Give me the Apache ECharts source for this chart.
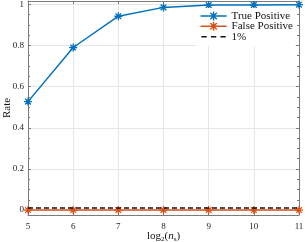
<!DOCTYPE html>
<html><head><meta charset="utf-8">
<script src="https://cdn.jsdelivr.net/npm/echarts@6/dist/echarts.min.js"></script>
<style>html,body{margin:0;padding:0;background:#fff}#c{width:305px;height:242px}</style>
</head><body><div id="c"></div>
<script>
const xValues = [5, 6, 7, 8, 9, 10, 11];
const truePositive = [0.527, 0.79, 0.942, 0.985, 0.996, 0.997, 0.998];
const falsePositive = [0.0, 0.0, 0.0, 0.0, 0.0, 0.0, 0.0];
const thresholdValue = 0.01;
const yMajorTicks = [0, 0.2, 0.4, 0.6, 0.8, 1];
const yMinorTicks = [0.05,0.1,0.15,0.25,0.3,0.35,0.45,0.5,0.55,0.65,0.7,0.75,0.85,0.9,0.95];
const xTicks = [5, 6, 7, 8, 9, 10, 11];
const seriesNames = ['True Positive', 'False Positive', '1%'];

const FONT = '"Liberation Serif", "DejaVu Serif", serif';
const AX = '#7a7a7a';
const star = 'path://M0,-1L0,1M-1,0L1,0M-0.71,-0.71L0.71,0.71M-0.71,0.71L0.71,-0.71';
const starIcon = 'path://M0,0L26,0M13,-4.5L13,4.5M8.5,0L17.5,0M9.8,-3.2L16.2,3.2M9.8,3.2L16.2,-3.2';
const dashIcon = 'path://M0,-4.5L0,-4.5M0,4.5L0,4.5M0,0L5,0M9,0L14,0M18,0L23,0';
const YMIN = -0.024, YMAX = 1.016;

function yAx(pos, ticks, len, labels, line, split) {
  return {
    type: 'value', position: pos, min: YMIN, max: YMAX,
    axisLine: {show: line, onZero: false, lineStyle: {color: AX, width: 1}},
    axisTick: {show: true, inside: true, length: len, customValues: ticks, lineStyle: {color: AX}},
    axisLabel: {show: labels, customValues: ticks, fontFamily: FONT, fontSize: 9, color: '#222', margin: 4,
      formatter: v => String(Math.round(v*10)/10)},
    splitLine: {show: split, lineStyle: {color: '#e6e6e6', width: 1}},
    name: labels ? 'Rate' : '', nameLocation: 'middle', nameGap: 15, nameMoveOverlap: false,
    nameTextStyle: {fontFamily: FONT, fontSize: 11, color: '#111'}
  };
}

const chart = echarts.init(document.getElementById('c'), null, {renderer: 'canvas'});
chart.setOption({
  animation: false,
  grid: {left: 28, right: 6, top: 1, bottom: 27, containLabel: false, outerBoundsMode: 'none'},
  legend: {
    right: 10, top: 8, orient: 'vertical', itemGap: -3.8, itemWidth: 26, itemHeight: 9.5,
    textStyle: {fontFamily: FONT, fontSize: 11, color: '#111'},
    backgroundColor: '#fff', padding: [1, 2, 2, 2],
    data: [
      {name: seriesNames[0], icon: starIcon, itemStyle: {color: 'none', borderColor: '#0072BD', borderWidth: 1.4}},
      {name: seriesNames[1], icon: starIcon, itemStyle: {color: 'none', borderColor: '#D95319', borderWidth: 1.4}},
      {name: seriesNames[2], icon: dashIcon, itemStyle: {color: 'none', borderColor: '#111', borderWidth: 1.5}}
    ]
  },
  xAxis: [
    {type: 'value', position: 'bottom', min: 5, max: 11, interval: 1,
     axisLine: {show: true, onZero: false, lineStyle: {color: AX}},
     axisTick: {show: true, inside: true, length: 3, lineStyle: {color: AX}},
     axisLabel: {fontFamily: FONT, fontSize: 9, color: '#222', margin: 7},
     splitLine: {show: true, lineStyle: {color: '#e6e6e6'}},
     name: '{n|log}{s|2}{n|(}{i|n}{s|s}{n|)}', nameLocation: 'middle', nameGap: 15, nameMoveOverlap: false,
     nameTextStyle: {rich: {
       n: {fontFamily: FONT, fontSize: 11, color: '#111'},
       i: {fontFamily: FONT, fontSize: 11, fontStyle: 'italic', color: '#111'},
       s: {fontFamily: FONT, fontSize: 7, color: '#111', verticalAlign: 'bottom', padding: [6, 0, 0, 0]}
     }}},
    {type: 'value', position: 'top', min: 5, max: 11, interval: 1,
     axisLine: {show: true, onZero: false, lineStyle: {color: AX}},
     axisTick: {show: true, inside: true, length: 3, lineStyle: {color: AX}},
     axisLabel: {show: false}, splitLine: {show: false}}
  ],
  yAxis: [
    yAx('left', yMajorTicks, 3, true, true, true),
    yAx('left', yMinorTicks, 2, false, false, false),
    yAx('right', yMajorTicks, 3, false, true, false),
    yAx('right', yMinorTicks, 2, false, false, false)
  ],
  series: [
    {name: seriesNames[0], type: 'line', data: xValues.map((x, i) => [x, truePositive[i]]),
     color: '#0072BD', lineStyle: {width: 1.5, color: '#0072BD'},
     symbol: star, symbolSize: 8, showAllSymbol: true,
     itemStyle: {color: '#0072BD', borderColor: '#0072BD', borderWidth: 1.3}, z: 3},
    {name: seriesNames[1], type: 'line', data: xValues.map((x, i) => [x, falsePositive[i]]),
     color: '#D95319', lineStyle: {width: 1.5, color: '#D95319'},
     symbol: star, symbolSize: 8, showAllSymbol: true,
     itemStyle: {color: '#D95319', borderColor: '#D95319', borderWidth: 1.3}, z: 3},
    {name: seriesNames[2], type: 'line', data: [[xTicks[0], thresholdValue], [xTicks[xTicks.length-1], thresholdValue]],
     color: '#111', lineStyle: {width: 1.5, color: '#111', type: [5, 3]},
     symbol: 'none', itemStyle: {color: '#111'}, z: 4}
  ]
});
</script></body></html>
